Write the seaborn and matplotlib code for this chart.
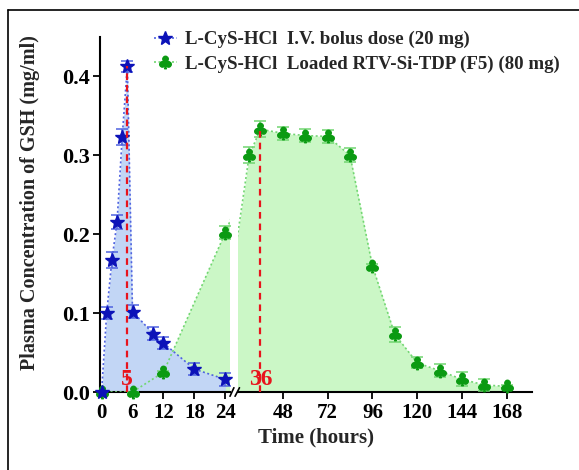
import matplotlib
matplotlib.use("Agg")
import matplotlib.pyplot as plt
import seaborn as sns
import pandas as pd
from matplotlib.lines import Line2D

# ---------------- data ----------------
iv_time = [0, 1, 2, 3, 4, 5, 6, 10, 12, 18, 24]
iv_conc = [0.0, 0.100, 0.167, 0.215, 0.323, 0.413, 0.102, 0.074, 0.062, 0.029, 0.016]
iv_err = [0.0, 0.008, 0.010, 0.009, 0.010, 0.007, 0.008, 0.008, 0.008, 0.008, 0.008]

f5_time = [0, 6, 12, 24, 30, 36, 48, 60, 72, 84, 96, 108, 120, 132, 144, 156, 168]
f5_conc = [0.0, 0.0, 0.025, 0.202, 0.300, 0.333, 0.328, 0.325, 0.324, 0.300, 0.160,
           0.073, 0.037, 0.027, 0.016, 0.009, 0.007]
f5_err = [0.0, 0.0, 0.002, 0.008, 0.010, 0.010, 0.008, 0.008, 0.008, 0.009, 0.002,
          0.009, 0.007, 0.008, 0.009, 0.008, 0.002]

tmax_vals = [5, 36]
cmax_vals = [0.413, 0.333]
tmax_labels = ["5", "36"]

left_ticks = [0, 6, 12, 18, 24]
right_ticks = [48, 72, 96, 120, 144, 168]
y_ticks = [0.0, 0.1, 0.2, 0.3, 0.4]
y_ticklabels = ["0.0", "0.1", "0.2", "0.3", "0.4"]

iv_label = "L-CyS-HCl  I.V. bolus dose (20 mg)"
f5_label = "L-CyS-HCl  Loaded RTV-Si-TDP (F5) (80 mg)"
xlabel = "Time (hours)"
ylabel = "Plasma Concentration of GSH (mg/ml)"

# ---------------- style ----------------
sns.set_theme(style="ticks")
plt.rcParams["font.family"] = ["Liberation Serif", "DejaVu Serif"]
plt.rcParams["font.weight"] = "bold"
plt.rcParams["axes.labelweight"] = "bold"

BLUE_M = "#0c12b8"
BLUE_L = "#4f63e0"
BLUE_F = "#c2d6f5"
GREEN_M = "#0b9a12"
GREEN_L = "#72d672"
GREEN_F = "#cbf7c6"
RED = "#e8141c"

iv_df = pd.DataFrame({"t": iv_time, "c": iv_conc, "e": iv_err})
f5_df = pd.DataFrame({"t": f5_time, "c": f5_conc, "e": f5_err})

W, H = 579, 470
fig = plt.figure(figsize=(W / 100, H / 100), dpi=100)

def fx(px):
    return px / W

def fy(py):
    return 1 - py / H

top_px, bot_px = 37, 392
axL = fig.add_axes([fx(100), fy(bot_px), fx(230) - fx(100), fy(top_px) - fy(bot_px)])
axR = fig.add_axes([fx(238), fy(bot_px), fx(532) - fx(238), fy(top_px) - fy(bot_px)])

axL.set_xlim(-0.3, 24.9)
axR.set_xlim(24.0, 181.5)
for ax in (axL, axR):
    ax.set_ylim(0, 0.45)
    ax.set_facecolor("none")

club = r"$\clubsuit$"

def draw(ax, xlo, xhi, with_iv):
    ax.fill_between(f5_df["t"], 0, f5_df["c"], color=GREEN_F, lw=0, zorder=1)
    if with_iv:
        ax.fill_between(iv_df["t"], 0, iv_df["c"], color=BLUE_F, lw=0, zorder=2)
    sns.lineplot(data=f5_df, x="t", y="c", ax=ax, color=GREEN_L, lw=1.2,
                 linestyle=(0, (1.2, 1.5)), zorder=3, legend=False)
    if with_iv:
        sns.lineplot(data=iv_df, x="t", y="c", ax=ax, color=BLUE_L, lw=1.2,
                     linestyle=(0, (1.2, 1.5)), zorder=3, legend=False)
    g = f5_df[(f5_df["t"] >= xlo) & (f5_df["t"] <= xhi)]
    ax.errorbar(g["t"], g["c"], yerr=g["e"], fmt="none", ecolor=GREEN_L,
                elinewidth=1.1, capsize=4.5, capthick=1.1, zorder=4)
    ax.plot(g["t"], g["c"], ls="none", marker=club, ms=9, color=GREEN_M,
            zorder=5, clip_on=False)
    if with_iv:
        ax.errorbar(iv_df["t"], iv_df["c"], yerr=iv_df["e"], fmt="none",
                    ecolor=BLUE_L, elinewidth=1.1, capsize=4.5, capthick=1.1, zorder=6)
        ax.plot(iv_df["t"], iv_df["c"], ls="none", marker="*", ms=10,
                color=BLUE_M, zorder=7, clip_on=False)

draw(axL, -1, 24.5, True)
draw(axR, 25, 182, False)

for ax, t, c, lab in ((axL, tmax_vals[0], cmax_vals[0], tmax_labels[0]),
                      (axR, tmax_vals[1], cmax_vals[1], tmax_labels[1])):
    ax.vlines(t, 0, c, colors=RED, linestyles=(0, (3, 2.2)), lw=1.6, zorder=8)
    ax.text(t, 0.003, lab, color=RED, fontsize=17, fontweight="bold",
            ha="center", va="bottom", zorder=9, fontfamily="Liberation Serif",
            fontstretch="condensed")

for ax in (axL, axR):
    ax.set_xlabel("")
    ax.set_ylabel("")
    for s in ("top", "right"):
        ax.spines[s].set_visible(False)
    ax.spines["bottom"].set_linewidth(1.5)
    ax.spines["bottom"].set_color("black")
    ax.tick_params(axis="both", direction="out", length=5, width=1.3,
                   colors="black", pad=3)
    ax.tick_params(axis="x", labelsize=15)

axL.tick_params(axis="y", labelsize=16, pad=2)
axL.spines["left"].set_linewidth(1.5)
axL.spines["left"].set_color("black")
axR.spines["left"].set_visible(False)
axR.tick_params(axis="y", left=False, labelleft=False)

axL.set_xticks(left_ticks)
axL.set_xticklabels([str(v) for v in left_ticks], fontweight="bold")
axR.set_xticks(right_ticks)
axR.set_xticklabels([str(v) for v in right_ticks], fontweight="bold")
axL.set_yticks(y_ticks)
axL.set_yticklabels(y_ticklabels, fontweight="bold")

kw = dict(color="black", lw=1.2, clip_on=False, zorder=10)
axL.plot([1.0, 1.03], [-0.012, 0.012], transform=axL.transAxes, **kw)
axR.plot([-0.01, 0.005], [-0.012, 0.012], transform=axR.transAxes, **kw)

fig.text(fx(316), fy(437), xlabel, ha="center", va="center", fontsize=15,
         fontweight="bold")
fig.text(fx(30), fy(203), ylabel, ha="center", va="center", rotation=90,
         fontsize=14.5, fontweight="bold")

h1 = Line2D([], [], color=BLUE_L, ls=(0, (1.2, 1.5)), lw=1.2, marker="*",
            ms=10, mfc=BLUE_M, mec=BLUE_M)
h2 = Line2D([], [], color=GREEN_L, ls=(0, (1.2, 1.5)), lw=1.2, marker=club,
            ms=9, mfc=GREEN_M, mec=GREEN_M)
leg = fig.legend([h1, h2], [iv_label, f5_label], loc="upper left",
                 bbox_to_anchor=(fx(154), fy(31)), frameon=False,
                 prop={"family": "Liberation Serif", "weight": "bold", "size": 13.6},
                 handlelength=1.2, handletextpad=0.45, labelspacing=0.38,
                 borderaxespad=0, borderpad=0)

fig.add_artist(Line2D([fx(8), fx(8)], [fy(10), 0], color="black", lw=1.2))
fig.add_artist(Line2D([fx(8), 1], [fy(10), fy(10)], color="black", lw=1.2))

fig.savefig("out.png", dpi=100)
